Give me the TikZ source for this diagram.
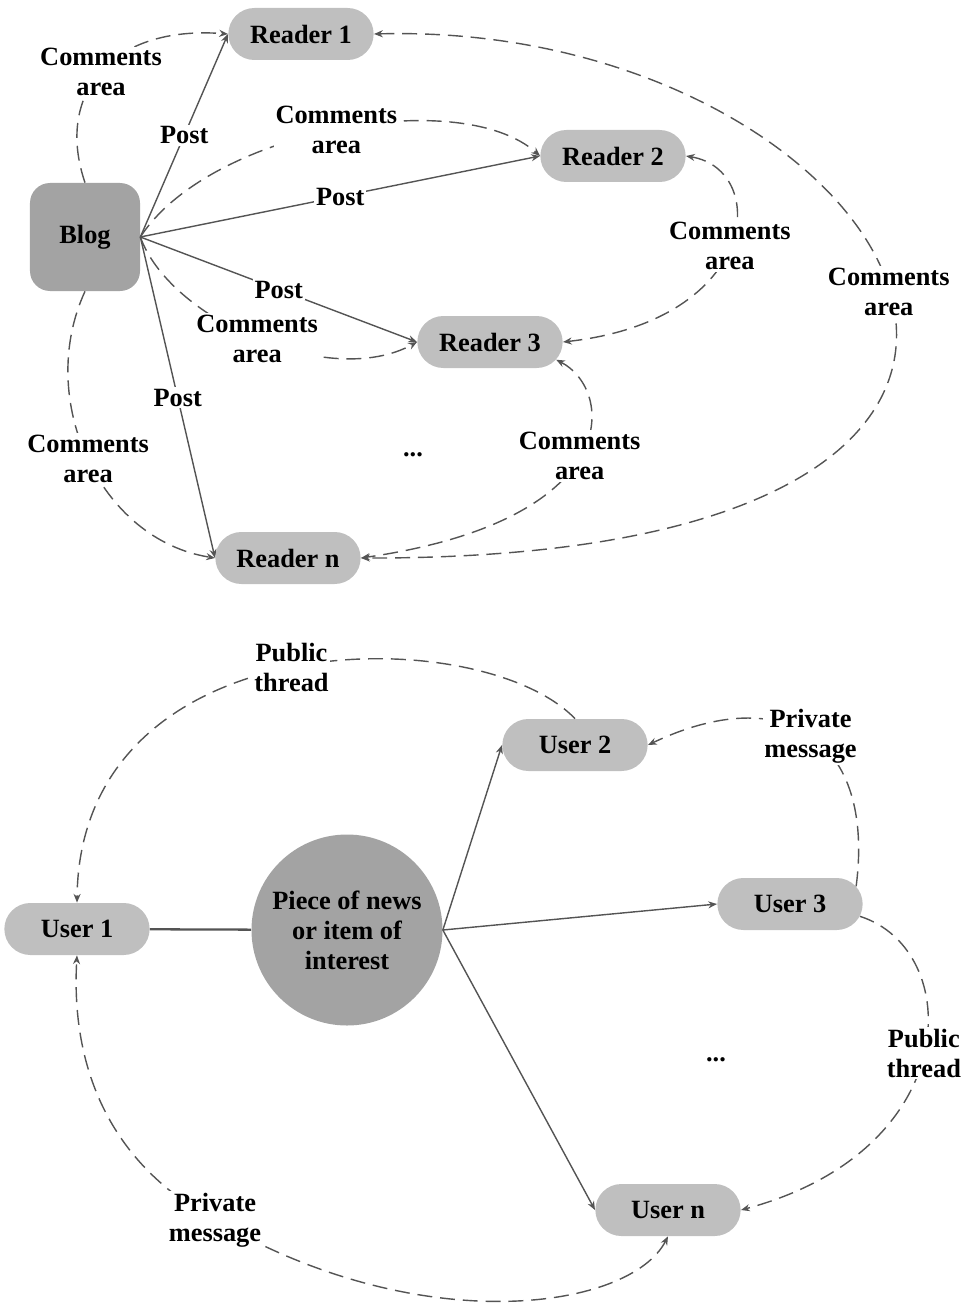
\documentclass[tikz,border=0pt]{standalone}
\usepackage{fontspec}
\setmainfont{Liberation Serif}
\usepackage{tikz}
\usetikzlibrary{arrows.meta,positioning,shapes.misc}
\definecolor{pillgray}{gray}{0.75}
\definecolor{hubgray}{gray}{0.64}
\definecolor{linegray}{gray}{0.33}

\begin{document}
\begin{tikzpicture}[
    x=0.2mm, y=-0.2mm,
    font=\fontsize{15}{17}\selectfont\bfseries,
    >={Stealth[length=5pt,width=4pt]},
    pill/.style={rounded rectangle, fill=pillgray, minimum width=31.4mm, minimum height=10.4mm},
    block/.style={rounded corners=4mm, fill=hubgray, minimum width=22mm, minimum height=21.6mm},
    hub/.style={circle, fill=hubgray, minimum size=38.2mm, align=center, inner sep=0pt},
    lbl/.style={fill=white, align=center, inner sep=1pt},
    post/.style={->, draw=linegray, line width=0.8pt},
    comment/.style={->, draw=linegray, line width=0.8pt, dash pattern=on 8.5pt off 4.5pt}
]
\path[use as bounding box] (0,0) rectangle (963,1311);

% blog and readers
\node[block] (blog) at (85,237) {Blog};
\node[pill] (r1) at (301,34) {Reader 1};
\node[pill] (r2) at (613,156) {Reader 2};
\node[pill] (r3) at (490,342) {Reader 3};
\node[pill] (rn) at (288,558) {Reader n};
\node (dots1) at (413,455) {...};

\draw[post] (blog.east) -- node[lbl] (post1) {Post} (r1.west);
\draw[post] (blog.east) -- node[lbl] (post2) {Post} (r2.west);
\draw[post] (blog.east) -- node[lbl] (post3) {Post} (r3.west);
\draw[post] (blog.east) -- node[lbl] (postn) {Post} (rn.west);

\draw[comment] (blog.north) .. controls (55,95) and (110,25) .. node[lbl] (com1) {Comments\\area} (r1.west);
\draw[comment] (blog.east) .. controls (210,130) and (460,85) .. node[lbl] (com2) {Comments\\area} (r2.west);
\draw[comment] (blog.east) .. controls (170,320) and (330,390) .. node[lbl] (com3) {Comments\\area} (r3.west);
\draw[comment] (blog.south) .. controls (35,400) and (100,540) .. node[lbl] (comn) {Comments\\area} (rn.west);
\draw[comment, <->] (r2.east) .. controls (770,170) and (760,320) .. node[lbl] (com23) {Comments\\area} (r3.east);
\draw[comment, <->] (r1.east) .. controls (900,20) and (1225,560) .. node[lbl] (com1n) {Comments\\area} (rn.east);
\draw[comment, <->] (r3.-15) .. controls (615,390) and (625,520) .. node[lbl] (com3n) {Comments\\area} (rn.east);

% news item and users
\node[hub] (news) at (347,930) {Piece of news\\or item of\\interest};
\node[pill] (u1) at (77,929) {User 1};
\node[pill] (u2) at (575,745) {User 2};
\node[pill] (u3) at (790,904) {User 3};
\node[pill] (un) at (668,1210) {User n};
\node (dots2) at (716,1060) {...};

\draw[draw=linegray, line width=1.3pt] (u1) -- (news);
\draw[post] (news.east) -- (u2.west);
\draw[post] (news.east) -- (u3.west);
\draw[post] (news.east) -- (un.west);

\draw[comment] (u2.north) .. controls (480,620) and (80,620) .. node[lbl] (pub1) {Public\\thread} (u1.north);
\draw[comment] (u3.15) .. controls (875,740) and (785,680) .. node[lbl] (priv1) {Private\\message} (u2.east);
\draw[comment] (u3.-10) .. controls (965,950) and (965,1150) .. node[lbl] (pub2) {Public\\thread} (un.east);
\draw[comment, <->] (un.south) .. controls (630,1310) and (420,1340) .. (215,1220)
    .. controls (120,1170) and (70,1080) .. (u1.south);
\node[lbl] (priv2) at (215,1220) {Private\\message};
\end{tikzpicture}
\end{document}
